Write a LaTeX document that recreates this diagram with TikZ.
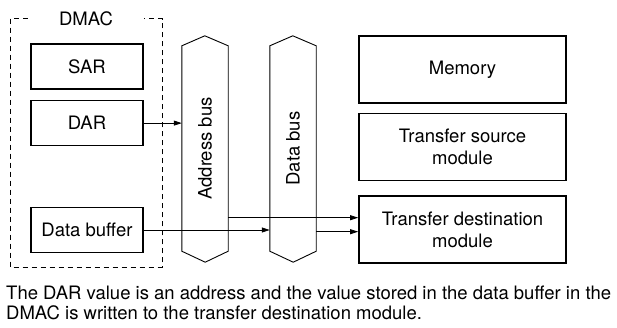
\documentclass[tikz,border=0pt]{standalone}
\usepackage{fontspec}
\setmainfont{TeX Gyre Heros}
\usepackage{tikz}
\usetikzlibrary{positioning,arrows.meta}

\begin{document}
\begin{tikzpicture}[
  x=1pt, y=-1pt,
  node distance=9pt,
  reg/.style    = {draw, line width=1.6pt, minimum width=112pt, minimum height=45pt,
                   font=\fontsize{18.5}{22}\selectfont, inner sep=0pt},
  module/.style = {draw, line width=1.6pt, minimum width=207pt, minimum height=67pt,
                   align=center, font=\fontsize{18.5}{22}\selectfont, inner sep=0pt},
  bus/.style    = {minimum width=46pt, minimum height=205pt, inner sep=0pt},
  busline/.style= {line width=0.9pt, line join=miter},
  wire/.style   = {-{Triangle[length=8pt,width=5pt]}, line width=0.8pt},
  frame/.style  = {dash pattern=on 5pt off 4pt, line width=0.8pt},
]
\useasboundingbox (0,0) rectangle (617,327);

% DMAC side
\node[font=\fontsize{18.5}{22}\selectfont, inner xsep=31pt, inner ysep=0pt] (dmac) at (86,18.5) {DMAC};
\draw[frame] (dmac.west) -- (10,18.5) |- (162,267) |- (dmac.east);

\node[reg] (sar) at (87,66.5) {SAR};
\node[reg, below=10pt of sar] (dar) {DAR};
\node[reg] (buf) at (87,230) {Data buffer};

% buses
\node[bus] (abus) at (205,148.5) {};
\node[bus] (dbus) at (293,148.5) {};
\draw[busline] (abus.south west) -- (abus.north west) -- ++(23,-10) -- (abus.north east)
  -- (abus.south east) -- ++(-23,11) -- cycle;
\draw[busline] (dbus.south west) -- (dbus.north west) -- ++(23,-10) -- (dbus.north east)
  -- (dbus.south east) -- ++(-23,11) -- cycle;
\node[rotate=90, font=\fontsize{18.5}{22}\selectfont] at (abus) {Address bus};
\node[rotate=90, font=\fontsize{18.5}{22}\selectfont] at (dbus) {Data bus};

% modules
\node[module] (mem) at (462.5,69.5) {Memory};
\node[module, below=of mem] (src) {Transfer source\\module};
\node[module, below=14pt of src] (dest) {Transfer destination\\module};

\coordinate (ain) at ([yshift=12pt]dest.west);
\coordinate (din) at ([yshift=-2pt]dest.west);

\draw[wire] (dar.east) -- (dar.east -| abus.west);
\draw[wire] (buf.east) -- (buf.east -| dbus.west);
\draw[wire] (ain -| abus.east) -- (ain);
\draw[wire] (din -| dbus.east) -- (din);

\node[anchor=north west, align=left, inner sep=0pt,
      font=\fontsize{18.5}{20}\selectfont] (note) at (6,286)
  {The DAR value is an address and the value stored in the data buffer in the\\
   DMAC is written to the transfer destination module.};

\end{tikzpicture}
\end{document}
